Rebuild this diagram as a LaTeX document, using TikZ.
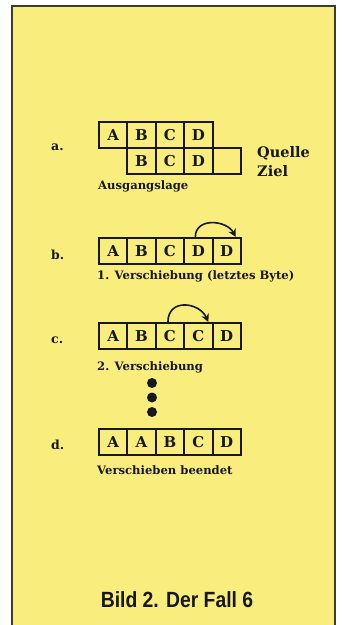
\documentclass[tikz,border=0pt]{standalone}
\usepackage{fontspec}
\setmainfont{DejaVu Serif}
\newfontfamily\capfont[FakeStretch=0.88]{Liberation Sans}
\usetikzlibrary{arrows.meta}
\definecolor{paper}{RGB}{249,237,126}
\definecolor{ink}{RGB}{24,24,24}
\begin{document}
\begin{tikzpicture}[x=1pt,y=-1pt,
  cell/.style={draw=ink, line width=1.9pt, minimum width=28.4pt, minimum height=26pt,
    inner sep=0pt, anchor=north west, text=ink, font=\bfseries\fontsize{15}{15}\selectfont},
  caption/.style={anchor=west, inner sep=0pt, text=ink, font=\bfseries\fontsize{11.6}{12}\selectfont},
  rowlabel/.style={anchor=west, inner sep=0pt, text=ink, font=\bfseries\fontsize{12.5}{13}\selectfont},
  sidelabel/.style={anchor=west, inner sep=0pt, text=ink, font=\bfseries\fontsize{14.5}{15}\selectfont},
  dot/.style={circle, fill=ink, inner sep=0pt, minimum size=10pt},
  movearrow/.style={draw=ink, line width=1.6pt, -{Stealth[length=8pt,width=8pt]}}]
\useasboundingbox (0,0) rectangle (344,625);
\fill[white] (0,0) rectangle (344,625);
% yellow panel with open bottom edge
\fill[paper] (12,6) rectangle (335,625);
\draw[line width=2pt, draw=ink!85] (12,625) -- (12,6) -- (335,6) -- (335,625);

% a. initial state: source and target
\node[rowlabel] (la) at (51,147) {a.};
\foreach \t [count=\i] in {A,B,C,D}
  \node[cell] (q\i) at ({98+(\i-1)*28.4},121) {\t};
\foreach \t [count=\i] in {B,C,D,{}}
  \node[cell] (z\i) at ({126.4+(\i-1)*28.4},147) {\t};
\node[sidelabel] (quelle) at (257,153) {Quelle};
\node[sidelabel] (ziel) at (257,171) {Ziel};
\node[caption] (ca) at (98,186) {Ausgangslage};

% b. first shift
\node[rowlabel] (lb) at (51,255) {b.};
\foreach \t [count=\i] in {A,B,C,D,D}
  \node[cell] (b\i) at ({98+(\i-1)*28.4},237) {\t};
\draw[movearrow] ([xshift=-3pt]b4.north) .. controls +(0,-20) and +(-9,-17) .. ([xshift=9pt]b5.north);
\node[caption] (cb) at (97,276) {1. Verschiebung (letztes Byte)};

% c. second shift
\node[rowlabel] (lc) at (51,340) {c.};
\foreach \t [count=\i] in {A,B,C,C,D}
  \node[cell] (c\i) at ({98+(\i-1)*28.4},322) {\t};
\draw[movearrow] ([xshift=-2pt]c3.north) .. controls +(0,-24) and +(-9,-20) .. ([xshift=10pt]c4.north);
\node[caption] (cc) at (97,367) {2. Verschiebung};

% continuation dots
\node[dot] (d1) at (152,383) {};
\node[dot] (d2) at (152,397.5) {};
\node[dot] (d3) at (152,412) {};

% d. finished
\node[rowlabel] (ld) at (51,445) {d.};
\foreach \t [count=\i] in {A,A,B,C,D}
  \node[cell] (e\i) at ({98+(\i-1)*28.4},428) {\t};
\node[caption] (cd) at (97,470) {Verschieben beendet};

% figure caption
\node[inner sep=0pt, text=ink, font=\capfont\bfseries\fontsize{22}{22}\selectfont] (title) at (177,600) {Bild 2. Der Fall 6};
\end{tikzpicture}
\end{document}
